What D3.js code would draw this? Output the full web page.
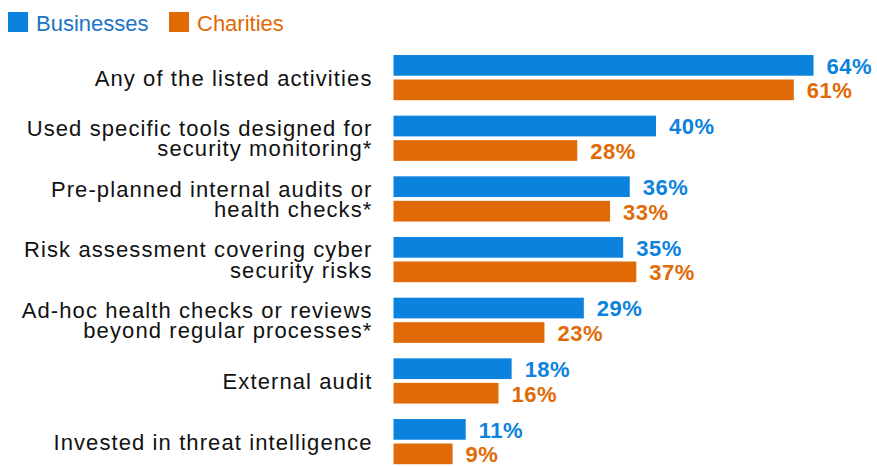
<!DOCTYPE html>
<html><head><meta charset="utf-8">
<script src="https://cdn.jsdelivr.net/npm/d3@7"></script>
<style>body{margin:0;background:#fff;}text{font-family:"Liberation Sans",Arial,sans-serif;}</style>
</head><body><svg id="c" width="877" height="467"></svg>
<script>
const categories = [
  ["Any of the listed activities"],
  ["Used specific tools designed for", "security monitoring*"],
  ["Pre-planned internal audits or", "health checks*"],
  ["Risk assessment covering cyber", "security risks"],
  ["Ad-hoc health checks or reviews", "beyond regular processes*"],
  ["External audit"],
  ["Invested in threat intelligence"]
];
const businesses = [64, 40, 36, 35, 29, 18, 11];
const charities = [61, 28, 33, 37, 23, 16, 9];
const seriesNames = ["Businesses", "Charities"];
const colors = ["#0b83de", "#e06a05"];
const textColors = ["#1b74c4", "#e06a05"];

const svg = d3.select("#c");
const x = d3.scaleLinear().domain([0, 64]).range([393.5, 813.5]);
const y0 = d3.scaleBand().domain(d3.range(categories.length)).range([55, 55 + 7 * 60.67]).paddingInner(0).paddingOuter(0);
const y1 = d3.scaleBand().domain([0,1]).range([0, 45.2]).paddingInner(0.155);

// legend
const lg = svg.append("g");
const lx = [8, 169];
seriesNames.forEach((n,i)=>{
  lg.append("rect").attr("x", lx[i]).attr("y", 12).attr("width", 20).attr("height", 20).attr("fill", colors[i]);
  lg.append("text").attr("x", lx[i]+28).attr("y", 30.5).attr("font-size", 22).attr("fill", textColors[i]).text(n);
});

const data = [businesses, charities];
categories.forEach((lab, ci)=>{
  const gy = y0(ci);
  data.forEach((vals, si)=>{
    const by = gy + y1(si);
    svg.append("rect").attr("x", x(0)).attr("y", by).attr("width", x(vals[ci]) - x(0)).attr("height", y1.bandwidth()).attr("fill", colors[si]);
    svg.append("text").attr("x", x(vals[ci]) + 13).attr("y", by + y1.bandwidth()/2 + 0.5).attr("dy", "0.36em")
      .attr("font-size", 22).attr("font-weight", "bold").attr("letter-spacing", 0.5).attr("fill", colors[si]).text(vals[ci] + "%");
  });
  const cy = gy + 22.6;
  const t = svg.append("text").attr("text-anchor", "end").attr("font-size", 22).attr("letter-spacing", 1.1).attr("fill", "#111");
  const n = lab.length;
  lab.forEach((line, li)=>{
    t.append("tspan").attr("x", 372.5).attr("y", cy + (li - (n-1)/2) * 20.5).attr("dy", "0.36em").text(line);
  });
});
</script></body></html>
